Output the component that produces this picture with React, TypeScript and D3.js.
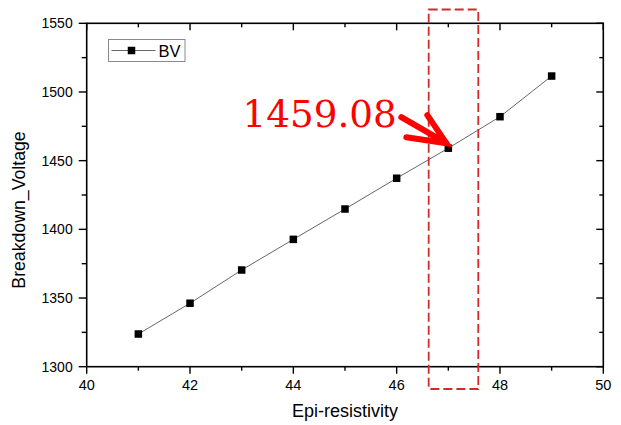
import React, { useEffect, useRef } from "react";
import * as d3 from "d3";

// Epi-resistivity vs breakdown voltage
const resistivity = [41, 42, 43, 44, 45, 46, 47, 48, 49];
const breakdownVoltage = [1323.8, 1346.2, 1370.4, 1392.7, 1414.8, 1437.2, 1459.08, 1482.0, 1511.6];
const seriesName = "BV";
const xMajorTicks = [40, 42, 44, 46, 48, 50];
const xMinorTicks = [41, 43, 45, 47, 49];
const yMajorTicks = [1300, 1350, 1400, 1450, 1500, 1550];
const yMinorTicks = [1325, 1375, 1425, 1475, 1525];
const highlightRange = [46.62, 47.58];
const calloutIndex = 6;

export default function App() {
    const ref = useRef<SVGSVGElement | null>(null);

    useEffect(() => {
        if (!ref.current) return;
        const svg = d3.select(ref.current);
        svg.selectAll("*").remove();

        const left = 86.7, right = 603.3, top = 23.3, bottom = 366.7;
        const x = d3.scaleLinear().domain([40, 50]).range([left, right]);
        const y = d3.scaleLinear().domain([1300, 1550]).range([bottom, top]);
        const sans = "'Liberation Sans', Arial, sans-serif";

        const g = svg.append("g");

        // frame
        g.append("rect")
            .attr("x", left).attr("y", top)
            .attr("width", right - left).attr("height", bottom - top)
            .attr("fill", "none").attr("stroke", "#000").attr("stroke-width", 1.6);

        // ticks: outward on bottom/left, inward on top/right
        const tick = (x1: number, y1: number, x2: number, y2: number) =>
            g.append("line").attr("x1", x1).attr("y1", y1).attr("x2", x2).attr("y2", y2)
                .attr("stroke", "#000").attr("stroke-width", 1.4);

        xMajorTicks.forEach(v => {
            tick(x(v), bottom, x(v), bottom + 7);
            tick(x(v), top, x(v), top + 7);
        });
        xMinorTicks.forEach(v => {
            tick(x(v), bottom, x(v), bottom + 4);
            tick(x(v), top, x(v), top + 4);
        });
        yMajorTicks.forEach(v => {
            tick(left - 8, y(v), left, y(v));
            tick(right - 7, y(v), right, y(v));
        });
        yMinorTicks.forEach(v => {
            tick(left - 5, y(v), left, y(v));
            tick(right - 4, y(v), right, y(v));
        });

        g.selectAll(".xl").data(xMajorTicks).enter().append("text")
            .attr("x", d => x(d)).attr("y", bottom + 23)
            .attr("text-anchor", "middle")
            .attr("font-family", sans).attr("font-size", 14.5)
            .text(d => d);

        g.selectAll(".yl").data(yMajorTicks).enter().append("text")
            .attr("x", left - 14).attr("y", d => y(d) + 5)
            .attr("text-anchor", "end")
            .attr("font-family", sans).attr("font-size", 14)
            .text(d => d);

        // axis titles
        g.append("text")
            .attr("x", (left + right) / 2).attr("y", 416.5)
            .attr("text-anchor", "middle")
            .attr("font-family", sans).attr("font-size", 18)
            .text("Epi-resistivity");

        g.append("text")
            .attr("transform", `translate(25,${(top + bottom) / 2 + 15}) rotate(-90)`)
            .attr("text-anchor", "middle")
            .attr("font-family", sans).attr("font-size", 17.7)
            .text("Breakdown_Voltage");

        // series
        const data = resistivity.map((r, i) => ({ r, v: breakdownVoltage[i] }));
        const line = d3.line<{ r: number; v: number }>()
            .x(d => x(d.r))
            .y(d => y(d.v));

        g.append("path")
            .datum(data)
            .attr("fill", "none")
            .attr("stroke", "#666")
            .attr("stroke-width", 1)
            .attr("d", line);

        const ms = 7.5;
        g.selectAll(".pt").data(data).enter().append("rect")
            .attr("x", d => x(d.r) - ms / 2)
            .attr("y", d => y(d.v) - ms / 2)
            .attr("width", ms).attr("height", ms)
            .attr("fill", "#000");

        // legend
        const lg = g.append("g").attr("transform", "translate(108.5,39.5)");
        lg.append("rect").attr("width", 76.5).attr("height", 22)
            .attr("fill", "#fff").attr("stroke", "#888").attr("stroke-width", 1);
        lg.append("line").attr("x1", 3).attr("x2", 47).attr("y1", 11).attr("y2", 11)
            .attr("stroke", "#666").attr("stroke-width", 1);
        lg.append("rect").attr("x", 22.5 - ms / 2 + 0.5).attr("y", 11 - ms / 2)
            .attr("width", ms).attr("height", ms).attr("fill", "#000");
        lg.append("text").attr("x", 50).attr("y", 17)
            .attr("font-family", sans).attr("font-size", 16.5)
            .text(seriesName);

        // highlight box
        g.append("rect")
            .attr("x", x(highlightRange[0])).attr("y", 9.5)
            .attr("width", x(highlightRange[1]) - x(highlightRange[0]))
            .attr("height", 389 - 9.5)
            .attr("fill", "none")
            .attr("stroke", "#d42a2a")
            .attr("stroke-width", 1.8)
            .attr("stroke-dasharray", "9,4");

        // callout
        const px = x(resistivity[calloutIndex]);
        const py = y(breakdownVoltage[calloutIndex]);
        const tipX = px - 2, tipY = py - 5;
        g.append("path")
            .attr("d", `M${tipX - 45},${tipY - 26} L${tipX},${tipY} M${tipX - 19},${tipY - 28} L${tipX},${tipY} L${tipX - 40},${tipY - 6}`)
            .attr("fill", "none")
            .attr("stroke", "#ff0000")
            .attr("stroke-width", 6)
            .attr("stroke-linecap", "round")
            .attr("stroke-linejoin", "miter");

        g.append("text")
            .attr("x", 242.5).attr("y", 127)
            .attr("font-family", "'DejaVu Serif', serif")
            .attr("font-size", 37.3)
            .attr("fill", "#ff0000")
            .text(breakdownVoltage[calloutIndex].toFixed(2));
    }, []);

    return (
        <svg
            ref={ref}
            width="621"
            height="425"
            style={{ position: "absolute", left: 0, top: 0, background: "#fff" }}
        ></svg>
    );
}
